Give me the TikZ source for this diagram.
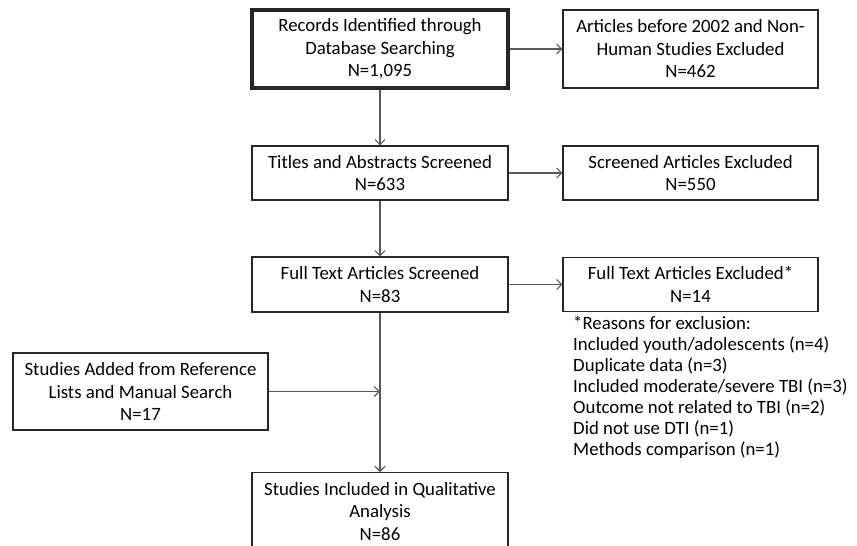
\documentclass[tikz,border=0pt]{standalone}
\usepackage{fontspec}
\setmainfont{Carlito}
\usepackage{tikz}
\usetikzlibrary{arrows.meta,positioning,calc}

\begin{document}
\begin{tikzpicture}[
  x=1pt, y=-1pt,
  flowbox/.style={
    draw=black!85,
    line width=1.3pt,
    fill=white,
    align=center,
    minimum width=256pt,
    inner sep=0pt,
    font=\fontsize{18.8}{22.5}\selectfont
  },
  mainbox/.style={
    flowbox,
    line width=3.6pt
  },
  flowline/.style={
    draw=black!65,
    line width=1.3pt
  },
  flowarrow/.style={
    flowline,
    -{Straight Barb[length=5pt,width=10pt,line width=1.1pt]}
  },
  notetext/.style={
    align=left,
    inner sep=0pt,
    font=\fontsize{18.8}{21}\selectfont
  }
]
\clip (0,0) rectangle (857,546);

% left column
\node [mainbox, minimum height=78pt] (records) at (380,49)
  {Records Identified through\\Database Searching\\N=1,095};
\node [flowbox, minimum height=54pt] (titles) at (380,173)
  {Titles and Abstracts Screened\\N=633};
\node [flowbox, minimum height=55pt] (fulltext) at (380,284.5)
  {Full Text Articles Screened\\N=83};
\node [flowbox, minimum height=77pt, minimum width=255pt] (added) at (140.5,391.5)
  {Studies Added from Reference\\Lists and Manual Search\\N=17};
\node [flowbox, minimum height=77pt, anchor=north] (included) at (380,472)
  {Studies Included in Qualitative\\Analysis\\N=86};

% right column
\node [flowbox, minimum height=78pt, minimum width=255pt] (before) at (690.5,49)
  {Articles before 2002 and Non-\\Human Studies Excluded\\N=462};
\node [flowbox, minimum height=54pt, minimum width=255pt] (screened) at (690.5,173)
  {Screened Articles Excluded\\N=550};
\node [flowbox, minimum height=54pt, minimum width=255pt] (excluded) at (690.5,284.5)
  {Full Text Articles Excluded*\\N=14};

\node [notetext, anchor=north west] (reasons) at (573,316)
  {*Reasons for exclusion:\\
   Included youth/adolescents (n=4)\\
   Duplicate data (n=3)\\
   Included moderate/severe TBI (n=3)\\
   Outcome not related to TBI (n=2)\\
   Did not use DTI (n=1)\\
   Methods comparison (n=1)};

% connectors
\draw [flowarrow] (records) -- (before);
\draw [flowarrow] (records) -- (titles);
\draw [flowarrow] (titles) -- (screened);
\draw [flowarrow] (titles) -- (fulltext);
\draw [flowarrow] (fulltext) -- (excluded);
\draw [flowarrow] (fulltext) -- (included);
\coordinate (join) at (added.east -| fulltext.south);
\draw [flowarrow] (added) -- (join);

\end{tikzpicture}
\end{document}
